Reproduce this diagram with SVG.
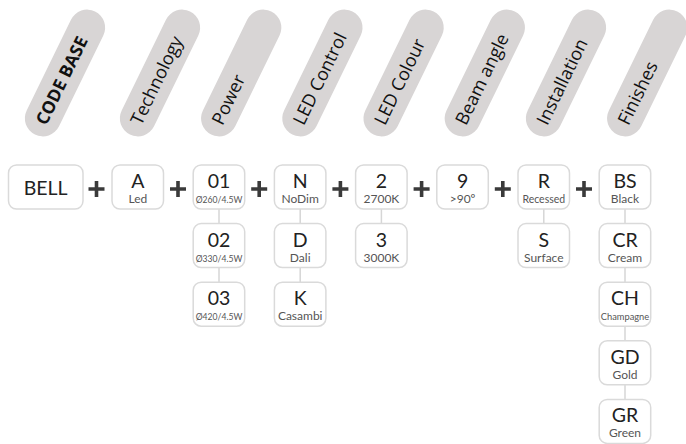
<svg xmlns="http://www.w3.org/2000/svg" width="686" height="444" viewBox="0 0 686 444">
<style>
.pill{fill:#d8d5d5}
.ph{font-family:"Open Sans","Noto Sans",sans-serif;font-size:18px;fill:#111}
.phb{font-weight:bold;font-size:17.5px}
.box{fill:#fff;stroke:#dadada;stroke-width:1.5}
.m{font-family:Lato,"Noto Sans",sans-serif;font-size:19.5px;fill:#222;text-anchor:middle}
.s{font-family:Lato,"Noto Sans",sans-serif;font-size:12px;fill:#555;text-anchor:middle}
.xs{font-size:8.6px}
.sm{font-size:10.5px}
.ch{font-size:9.3px}
.con{stroke:#d6d6d6;stroke-width:1.5;fill:none}
.plus{stroke:#3a3a3a;stroke-width:3.6;fill:none}
</style>
<defs>
<rect id="pl" x="-68.5" y="-18" width="137" height="36" rx="18"/>
<path id="pp" d="M-8 0H8M0 -8V8"/>
</defs>
<g id="headers">
<g id="h-code" transform="translate(65,73) rotate(-64)"><use href="#pl" class="pill"/><text class="ph phb" x="-56" y="6.5">CODE BASE</text></g>
<g id="h-tech" transform="translate(160,73) rotate(-64)"><use href="#pl" class="pill"/><text class="ph" x="-56" y="6.5">Technology</text></g>
<g id="h-power" transform="translate(241.2,73) rotate(-64)"><use href="#pl" class="pill"/><text class="ph" x="-56" y="6.5">Power</text></g>
<g id="h-ledc" transform="translate(322.4,73) rotate(-64)"><use href="#pl" class="pill"/><text class="ph" x="-56" y="6.5">LED Control</text></g>
<g id="h-ledcol" transform="translate(403.6,73) rotate(-64)"><use href="#pl" class="pill"/><text class="ph" x="-56" y="6.5">LED Colour</text></g>
<g id="h-beam" transform="translate(484.8,73) rotate(-64)"><use href="#pl" class="pill"/><text class="ph" x="-56" y="6.5">Beam angle</text></g>
<g id="h-inst" transform="translate(566,73) rotate(-64)"><use href="#pl" class="pill"/><text class="ph" x="-56" y="6.5">Installation</text></g>
<g id="h-fin" transform="translate(647.2,73) rotate(-64)"><use href="#pl" class="pill"/><text class="ph" x="-56" y="6.5">Finishes</text></g>
</g>
<g id="connectors">
<path class="con" d="M219 209V223.6M219 267.6V282.2"/>
<path class="con" d="M300.2 209V223.6M300.2 267.6V282.2"/>
<path class="con" d="M381.4 209V223.6"/>
<path class="con" d="M543.8 209V223.6"/>
<path class="con" d="M625 209V223.6M625 267.6V282.2M625 326.2V340.8M625 384.8V399.4"/>
<g id="pluses" class="plus">
<use href="#pp" x="96.5" y="189"/>
<use href="#pp" x="178" y="189"/>
<use href="#pp" x="259.2" y="189"/>
<use href="#pp" x="340.4" y="189"/>
<use href="#pp" x="421.6" y="189"/>
<use href="#pp" x="502.8" y="189"/>
<use href="#pp" x="584" y="189"/>
</g>
</g>
<g id="n-bell"><rect class="box" x="8.5" y="165" width="74.5" height="44" rx="8"/><text class="m" x="45.7" y="194.5">BELL</text></g>
<g id="n-a"><rect class="box" x="112" y="165" width="51.5" height="44" rx="8"/><text class="m" x="137.8" y="188">A</text><text class="s" x="137.8" y="203">Led</text></g>
<g id="n-01"><rect class="box" x="193.2" y="165" width="51.5" height="44" rx="8"/><text class="m" x="219" y="188">01</text><text class="s xs" x="219" y="203">Ø260/4.5W</text></g>
<g id="n-02"><rect class="box" x="193.2" y="223.6" width="51.5" height="44" rx="8"/><text class="m" x="219" y="246.6">02</text><text class="s xs" x="219" y="261.6">Ø330/4.5W</text></g>
<g id="n-03"><rect class="box" x="193.2" y="282.2" width="51.5" height="44" rx="8"/><text class="m" x="219" y="305.2">03</text><text class="s xs" x="219" y="320.2">Ø420/4.5W</text></g>
<g id="n-n"><rect class="box" x="274.4" y="165" width="51.5" height="44" rx="8"/><text class="m" x="300.2" y="188">N</text><text class="s" x="300.2" y="203">NoDim</text></g>
<g id="n-d"><rect class="box" x="274.4" y="223.6" width="51.5" height="44" rx="8"/><text class="m" x="300.2" y="246.6">D</text><text class="s" x="300.2" y="261.6">Dali</text></g>
<g id="n-k"><rect class="box" x="274.4" y="282.2" width="51.5" height="44" rx="8"/><text class="m" x="300.2" y="305.2">K</text><text class="s" x="300.2" y="320.2">Casambi</text></g>
<g id="n-2"><rect class="box" x="355.6" y="165" width="51.5" height="44" rx="8"/><text class="m" x="381.4" y="188">2</text><text class="s" x="381.4" y="203">2700K</text></g>
<g id="n-3"><rect class="box" x="355.6" y="223.6" width="51.5" height="44" rx="8"/><text class="m" x="381.4" y="246.6">3</text><text class="s" x="381.4" y="261.6">3000K</text></g>
<g id="n-9"><rect class="box" x="436.8" y="165" width="51.5" height="44" rx="8"/><text class="m" x="462.6" y="188">9</text><text class="s" x="462.6" y="203">&gt;90º</text></g>
<g id="n-r"><rect class="box" x="518" y="165" width="51.5" height="44" rx="8"/><text class="m" x="543.8" y="188">R</text><text class="s sm" x="543.8" y="203">Recessed</text></g>
<g id="n-s"><rect class="box" x="518" y="223.6" width="51.5" height="44" rx="8"/><text class="m" x="543.8" y="246.6">S</text><text class="s" x="543.8" y="261.6">Surface</text></g>
<g id="n-bs"><rect class="box" x="599.2" y="165" width="51.5" height="44" rx="8"/><text class="m" x="625" y="188">BS</text><text class="s" x="625" y="203">Black</text></g>
<g id="n-cr"><rect class="box" x="599.2" y="223.6" width="51.5" height="44" rx="8"/><text class="m" x="625" y="246.6">CR</text><text class="s" x="625" y="261.6">Cream</text></g>
<g id="n-ch"><rect class="box" x="599.2" y="282.2" width="51.5" height="44" rx="8"/><text class="m" x="625" y="305.2">CH</text><text class="s ch" x="625" y="320.2">Champagne</text></g>
<g id="n-gd"><rect class="box" x="599.2" y="340.8" width="51.5" height="44" rx="8"/><text class="m" x="625" y="363.8">GD</text><text class="s" x="625" y="378.8">Gold</text></g>
<g id="n-gr"><rect class="box" x="599.2" y="399.4" width="51.5" height="44" rx="8"/><text class="m" x="625" y="422.4">GR</text><text class="s" x="625" y="437.4">Green</text></g>
</svg>
